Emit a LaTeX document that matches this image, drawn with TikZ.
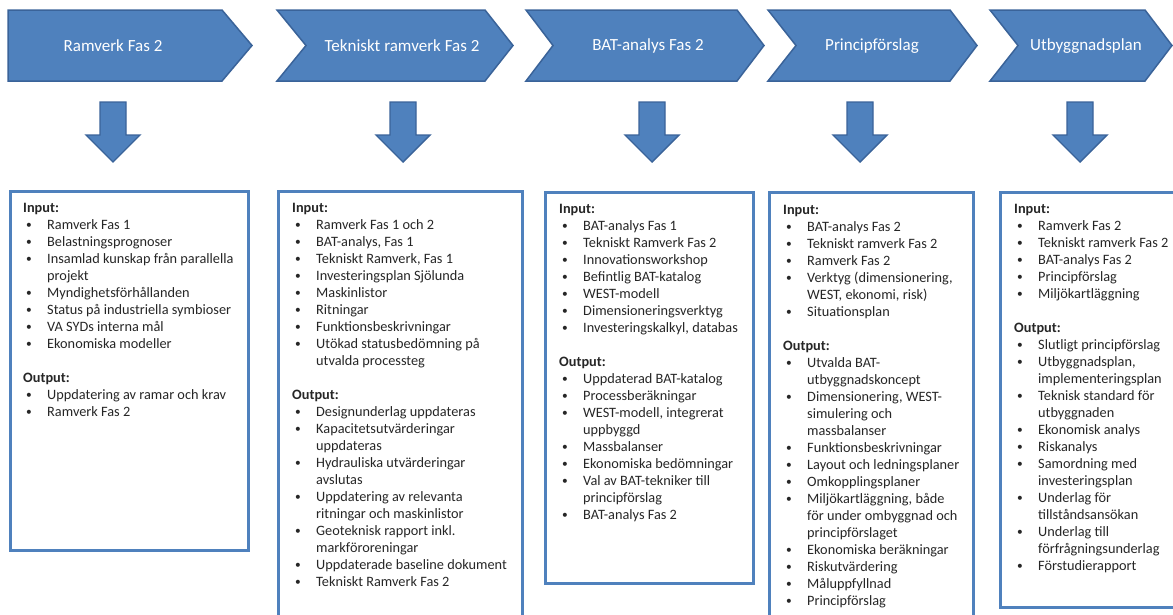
\documentclass[tikz,border=0pt]{standalone}
\usepackage{graphicx}
\usepackage{fontspec}
\setmainfont{Carlito}
\definecolor{accent}{HTML}{4F81BD}
\definecolor{accentdark}{HTML}{3A6399}
\definecolor{bodytext}{HTML}{262626}

% bullet list helpers: \li = bulleted line, \lc = continuation line
\newlength\bskip \newlength\bwid
\global\bskip=3pt
\global\bwid=24pt
\newcommand\li[1]{\hbox to \bwid{\hskip\bskip\raisebox{0.6pt}{\scalebox{0.8}{\textbullet}}\hfil}#1}
\newcommand\lc[1]{\hspace*{\bwid}#1}

\begin{document}
\begin{tikzpicture}[x=1pt,y=-1pt,
  stage/.style={fill=accent,draw=accentdark,line width=1.5pt,line join=miter},
  stagelabel/.style={text=white,font=\fontsize{17}{20}\selectfont,inner sep=0},
  blockarrow/.style={fill=accent,draw=accentdark,line width=1.4pt},
  panel/.style={draw=accent,line width=3pt},
  paneltext/.style={anchor=north west,inner sep=0,align=left,text=bodytext,
    font=\fontsize{14.3}{17}\selectfont}]
\useasboundingbox (0,0) rectangle (1173,614);
\clip (0,0) rectangle (1173,614);

% ---- process stages ----
\draw[stage] (8,10) -- (222,10) -- (252,45.5) -- (222,81) -- (8,81) -- cycle;
\draw[stage] (277,10) -- (485,10) -- (513,45.5) -- (485,81) -- (277,81) -- (306,45.5) -- cycle;
\draw[stage] (526,10) -- (737,10) -- (764,45.5) -- (737,81) -- (526,81) -- (553,45.5) -- cycle;
\draw[stage] (768,10) -- (950,10) -- (977,45.5) -- (950,81) -- (768,81) -- (796,45.5) -- cycle;
\draw[stage] (990,10) -- (1145,10) -- (1172,45.5) -- (1145,81) -- (990,81) -- (1018,45.5) -- cycle;

\node[stagelabel] (s1) at (113,46) {Ramverk Fas 2};
\node[stagelabel] (s2) at (402,46) {Tekniskt ramverk Fas 2};
\node[stagelabel] (s3) at (648,46) {BAT-analys Fas 2};
\node[stagelabel] (s4) at (872,46) {Principförslag};
\node[stagelabel] (s5) at (1086,46) {Utbyggnadsplan};

% ---- block arrows down to the panels ----
\foreach \cx in {113,403,652,860,1080}{
  \draw[blockarrow] (\cx-13,102) -- (\cx+13,102) -- (\cx+13,135) -- (\cx+27,135)
    -- (\cx,162) -- (\cx-27,135) -- (\cx-13,135) -- cycle;
}

% ---- panels ----
\draw[panel] (10,191) rectangle (248,550);
\draw[panel] (278,191) rectangle (522,640);
\draw[panel] (545,192) rectangle (753,583);
\draw[panel] (769,192) rectangle (973,640);
\draw[panel] (1000,192) rectangle (1190,607);

\node[paneltext] (p1) at (23,203) {%
\textbf{Input:}\\
\li{Ramverk Fas 1}\\
\li{Belastningsprognoser}\\
\li{Insamlad kunskap från parallella}\\
\lc{projekt}\\
\li{Myndighetsförhållanden}\\
\li{Status på industriella symbioser}\\
\li{VA SYDs interna mål}\\
\li{Ekonomiska modeller}\\[17pt]
\textbf{Output:}\\
\li{Uppdatering av ramar och krav}\\
\li{Ramverk Fas 2}};

\node[paneltext] (p2) at (292,203) {%
\textbf{Input:}\\
\li{Ramverk Fas 1 och 2}\\
\li{BAT-analys, Fas 1}\\
\li{Tekniskt Ramverk, Fas 1}\\
\li{Investeringsplan Sjölunda}\\
\li{Maskinlistor}\\
\li{Ritningar}\\
\li{Funktionsbeskrivningar}\\
\li{Utökad statusbedömning på}\\
\lc{utvalda processteg}\\[17pt]
\textbf{Output:}\\
\li{Designunderlag uppdateras}\\
\li{Kapacitetsutvärderingar}\\
\lc{uppdateras}\\
\li{Hydrauliska utvärderingar}\\
\lc{avslutas}\\
\li{Uppdatering av relevanta}\\
\lc{ritningar och maskinlistor}\\
\li{Geoteknisk rapport inkl.}\\
\lc{markföroreningar}\\
\li{Uppdaterade baseline dokument}\\
\li{Tekniskt Ramverk Fas 2}};

\node[paneltext] (p3) at (559,204) {%
\textbf{Input:}\\
\li{BAT-analys Fas 1}\\
\li{Tekniskt Ramverk Fas 2}\\
\li{Innovationsworkshop}\\
\li{Befintlig BAT-katalog}\\
\li{WEST-modell}\\
\li{Dimensioneringsverktyg}\\
\li{Investeringskalkyl, databas}\\[17pt]
\textbf{Output:}\\
\li{Uppdaterad BAT-katalog}\\
\li{Processberäkningar}\\
\li{WEST-modell, integrerat}\\
\lc{uppbyggd}\\
\li{Massbalanser}\\
\li{Ekonomiska bedömningar}\\
\li{Val av BAT-tekniker till}\\
\lc{principförslag}\\
\li{BAT-analys Fas 2}};

\node[paneltext] (p4) at (783,205) {%
\textbf{Input:}\\
\li{BAT-analys Fas 2}\\
\li{Tekniskt ramverk Fas 2}\\
\li{Ramverk Fas 2}\\
\li{Verktyg (dimensionering,}\\
\lc{WEST, ekonomi, risk)}\\
\li{Situationsplan}\\[17pt]
\textbf{Output:}\\
\li{Utvalda BAT-}\\
\lc{utbyggnadskoncept}\\
\li{Dimensionering, WEST-}\\
\lc{simulering och}\\
\lc{massbalanser}\\
\li{Funktionsbeskrivningar}\\
\li{Layout och ledningsplaner}\\
\li{Omkopplingsplaner}\\
\li{Miljökartläggning, både}\\
\lc{för under ombyggnad och}\\
\lc{principförslaget}\\
\li{Ekonomiska beräkningar}\\
\li{Riskutvärdering}\\
\li{Måluppfyllnad}\\
\li{Principförslag}};

\node[paneltext] (p5) at (1014,204) {%
\textbf{Input:}\\
\li{Ramverk Fas 2}\\
\li{Tekniskt ramverk Fas 2}\\
\li{BAT-analys Fas 2}\\
\li{Principförslag}\\
\li{Miljökartläggning}\\[17pt]
\textbf{Output:}\\
\li{Slutligt principförslag}\\
\li{Utbyggnadsplan,}\\
\lc{implementeringsplan}\\
\li{Teknisk standard för}\\
\lc{utbyggnaden}\\
\li{Ekonomisk analys}\\
\li{Riskanalys}\\
\li{Samordning med}\\
\lc{investeringsplan}\\
\li{Underlag för}\\
\lc{tillståndsansökan}\\
\li{Underlag till}\\
\lc{förfrågningsunderlag}\\
\li{Förstudierapport}};
\end{tikzpicture}
\end{document}
